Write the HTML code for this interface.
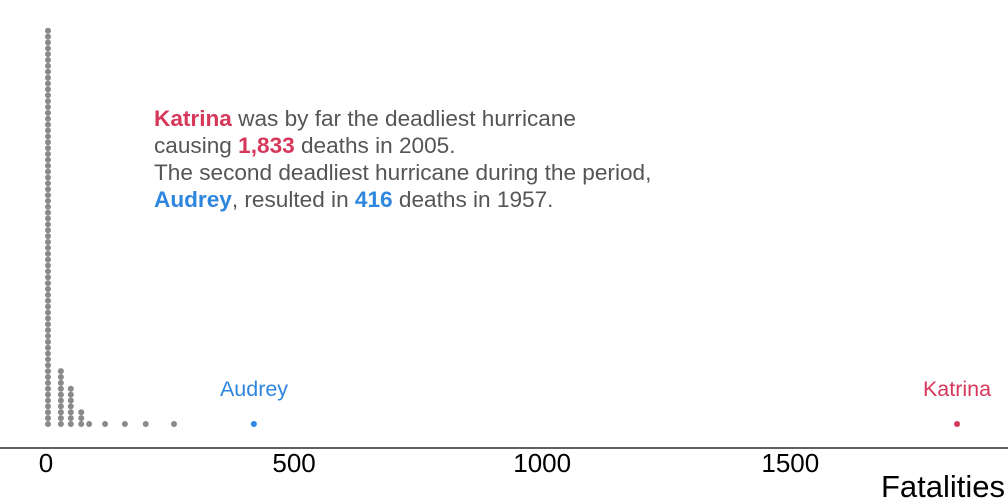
<!DOCTYPE html>
<html><head><meta charset="utf-8">
<style>
html,body{margin:0;padding:0;background:#fff;}
svg{display:block;font-family:"Liberation Sans",sans-serif;}
</style></head>
<body>
<svg id="chart" width="1008" height="504">
  <line x1="0" y1="448" x2="1008" y2="448" stroke="#000" stroke-width="1.2"/>
  <g id="ticks"></g>
  <text x="1005" y="497" text-anchor="end" font-size="31" fill="#000">Fatalities</text>
  <g id="dots"></g>
  <text x="254" y="396" text-anchor="middle" font-size="21.5" fill="#2f86de">Audrey</text>
  <text x="957" y="396" text-anchor="middle" font-size="21.5" fill="#d6385b">Katrina</text>
  <g font-size="22.6" fill="#555">
    <text x="154" y="126"><tspan font-weight="bold" fill="#d6385b">Katrina</tspan> was by far the deadliest hurricane</text>
    <text x="154" y="153">causing <tspan font-weight="bold" fill="#d6385b">1,833</tspan> deaths in 2005.</text>
    <text x="154" y="180">The second deadliest hurricane during the period,</text>
    <text x="154" y="207"><tspan font-weight="bold" fill="#2f86de">Audrey</tspan>, resulted in <tspan font-weight="bold" fill="#2f86de">416</tspan> deaths in 1957.</text>
  </g>
</svg>
<script>
const binValues = [4, 30, 50, 71, 87, 119, 159, 201, 258, 419, 1836];
const binCounts = [68, 10, 7, 3, 1, 1, 1, 1, 1, 1, 1];
const binColors = ["gray","gray","gray","gray","gray","gray","gray","gray","gray","audrey","katrina"];
const tickValues = [0, 500, 1000, 1500];
const tickLabels = ["0", "500", "1000", "1500"];

const NS = "http://www.w3.org/2000/svg";
function xScale(v){ return 46 + v * 0.4962; }
function yStack(i){ return 424 - i * 5.87; }
const colorMap = {gray:"#8a8a8a", audrey:"#2f86de", katrina:"#d6385b"};

const tg = document.getElementById("ticks");
tickValues.forEach((v, i) => {
  const t = document.createElementNS(NS, "text");
  t.setAttribute("x", xScale(v));
  t.setAttribute("y", 472);
  t.setAttribute("text-anchor", "middle");
  t.setAttribute("font-size", "26");
  t.setAttribute("fill", "#000");
  t.textContent = tickLabels[i];
  
  
  tg.appendChild(t);
});

const dg = document.getElementById("dots");
binValues.forEach((v, b) => {
  for (let i = 0; i < binCounts[b]; i++) {
    const c = document.createElementNS(NS, "circle");
    c.setAttribute("cx", xScale(v));
    c.setAttribute("cy", yStack(i));
    c.setAttribute("r", 3);
    c.setAttribute("fill", colorMap[binColors[b]]);
    
    
    dg.appendChild(c);
  }
});
</script>
</body></html>
